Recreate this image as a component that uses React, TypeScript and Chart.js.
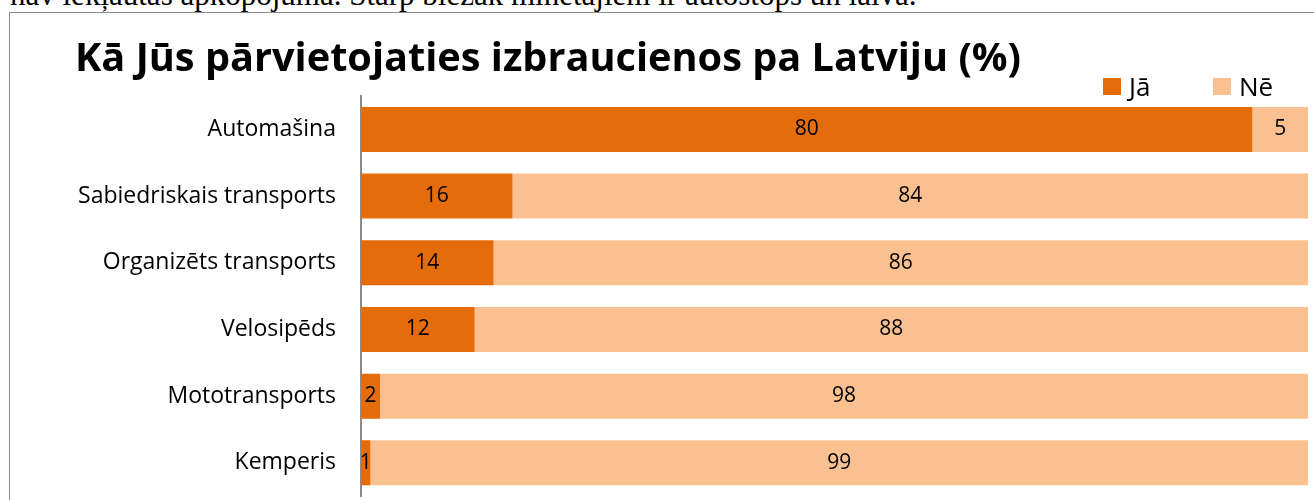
import React, { useEffect, useRef } from "react";
import { Chart, registerables } from "chart.js";

Chart.register(...registerables);

const categories = [
  "Automašina",
  "Sabiedriskais transports",
  "Organizēts transports",
  "Velosipēds",
  "Mototransports",
  "Kemperis",
];
const jaValues = [80, 16, 14, 12, 2, 1];
const neValues = [5, 84, 86, 88, 98, 99];
const seriesLabels = ["Jā", "Nē"];
const titleText = "Kā Jūs pārvietojaties izbraucienos pa Latviju (%)";
const introText =
  "nav iekļautas apkopojumā. Starp biežāk minētajiem ir autostops un laiva.";

const JA_COLOR = "#E46C0A";
const NE_COLOR = "#FAC090";
const seriesColors = [JA_COLOR, NE_COLOR];
const FONT = "'Open Sans', Lato, sans-serif";

const share = (a: number[], b: number[]) => a.map((v, i) => (v / (v + b[i])) * 100);
const rawSeries = [jaValues, neValues];

const valueLabels = {
  id: "valueLabels",
  afterDatasetsDraw(chart: any) {
    const ctx = chart.ctx;
    ctx.save();
    ctx.font = `21px ${FONT}`;
    ctx.fillStyle = "#000";
    ctx.textAlign = "center";
    ctx.textBaseline = "middle";
    chart.data.datasets.forEach((_ds: any, di: number) => {
      const meta = chart.getDatasetMeta(di);
      meta.data.forEach((el: any, i: number) => {
        const { x, y, base } = el.getProps(["x", "y", "base"], true);
        ctx.fillText(String(rawSeries[di][i]), (x + base) / 2, y);
      });
    });
    ctx.restore();
  },
};

export default function App() {
  const ref = useRef<HTMLCanvasElement>(null);

  useEffect(() => {
    const chart = new Chart(ref.current as HTMLCanvasElement, {
      type: "bar",
      data: {
        labels: categories,
        datasets: [
          {
            label: seriesLabels[0],
            data: share(jaValues, neValues),
            backgroundColor: JA_COLOR,
            borderWidth: 0,
          },
          {
            label: seriesLabels[1],
            data: share(neValues, jaValues),
            backgroundColor: NE_COLOR,
            borderWidth: 0,
          },
        ],
      },
      options: {
        indexAxis: "y",
        responsive: false,
        animation: false,
        layout: { padding: { left: 65, right: 6, top: 0, bottom: 0 } },
        datasets: { bar: { categoryPercentage: 1, barPercentage: 0.675 } },
        scales: {
          x: { stacked: true, min: 0, max: 100, display: false },
          y: {
            stacked: true,
            grid: { display: false, drawTicks: true, tickLength: 25 },
            border: { display: true, color: "#8c8c8c", width: 2 },
            ticks: { color: "#000", font: { family: FONT, size: 23 }, padding: 0 },
            afterFit: (s: any) => {
              s.width = 286;
            },
          },
        },
        plugins: {
          legend: { display: false },
          tooltip: { enabled: false },
          title: {
            display: true,
            text: titleText,
            align: "start",
            color: "#000",
            font: { family: FONT, size: 39.7, weight: "bold", lineHeight: 1.2 },
            padding: { top: 23, bottom: 12.4 },
          },
        },
      } as any,
      plugins: [valueLabels],
    });
    return () => chart.destroy();
  }, []);

  return (
    <div
      style={{
        position: "fixed",
        inset: 0,
        overflow: "hidden",
        background: "#fff",
      }}
    >
      <div
        style={{
          position: "absolute",
          left: 10,
          top: -22.6,
          fontFamily: "'Liberation Serif', 'Times New Roman', serif",
          fontSize: 31,
          lineHeight: "normal",
          whiteSpace: "nowrap",
          color: "#000",
        }}
      >
        {introText}
      </div>
      <div
        style={{
          position: "absolute",
          left: 9,
          top: 12,
          width: 1400,
          height: 600,
          border: "1px solid #8c8c8c",
        }}
      />
      <canvas
        ref={ref}
        width={1304}
        height={497}
        style={{ position: "absolute", left: 10, top: 13, width: 1304, height: 497 }}
      />
      {seriesLabels.map((lab, i) => (
        <div
          key={lab}
          style={{
            position: "absolute",
            left: i === 0 ? 1103 : 1213,
            top: 70,
            height: 32,
            display: "flex",
            alignItems: "center",
            fontFamily: FONT,
            fontSize: 26,
            color: "#000",
          }}
        >
          <span
            style={{
              display: "inline-block",
              width: 18,
              height: 17,
              background: seriesColors[i],
              marginRight: 8,
            }}
          />
          {lab}
        </div>
      ))}
    </div>
  );
}
